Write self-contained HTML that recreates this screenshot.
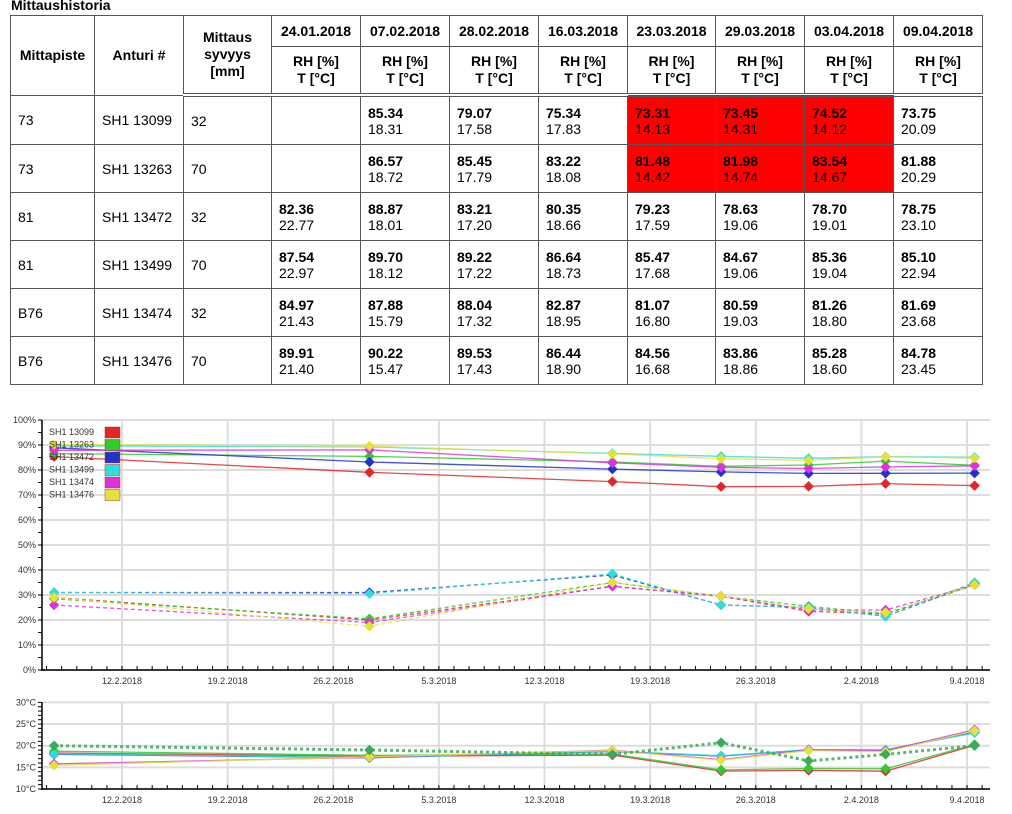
<!DOCTYPE html>
<html><head><meta charset="utf-8">
<style>
body{margin:0;width:1012px;height:814px;background:#fff;font-family:"Liberation Sans",Arial,sans-serif;position:relative;overflow:hidden}
#title{position:absolute;left:11px;top:-3px;font-weight:bold;font-size:14px;color:#000}
table{position:absolute;left:10px;top:15px;border-collapse:collapse;table-layout:fixed;font-size:14px;color:#000}
td,th{border:1px solid #555;padding:0 0 0 7px;text-align:left;vertical-align:middle}
th{font-weight:bold;text-align:center;padding:0}
.hd td,.hd th{}
.sub th{border-bottom:4px double #555;height:46px;line-height:17px}
.d1 th{height:30px}
tr.r td{height:47px}
.v{line-height:16px}
.v b{display:block}
.red{background:#ff0000}
svg{position:absolute;left:0;top:0}
</style></head><body>
<div id="title">Mittaushistoria</div>
<table>
<colgroup><col style="width:84px"><col style="width:89px"><col style="width:88px"><col style="width:89px"><col style="width:89px"><col style="width:89px"><col style="width:89px"><col style="width:88px"><col style="width:89px"><col style="width:89px"><col style="width:89px"></colgroup>
<tr class="d1"><th rowspan="2">Mittapiste</th><th rowspan="2">Anturi #</th><th rowspan="2" style="border-bottom:4px double #555;line-height:17px">Mittaus<br>syvyys<br>[mm]</th>
<th>24.01.2018</th><th>07.02.2018</th><th>28.02.2018</th><th>16.03.2018</th><th>23.03.2018</th><th>29.03.2018</th><th>03.04.2018</th><th>09.04.2018</th></tr>
<tr class="sub">
<th>RH [%]<br>T [°C]</th><th>RH [%]<br>T [°C]</th><th>RH [%]<br>T [°C]</th><th>RH [%]<br>T [°C]</th><th>RH [%]<br>T [°C]</th><th>RH [%]<br>T [°C]</th><th>RH [%]<br>T [°C]</th><th>RH [%]<br>T [°C]</th></tr>
<tbody id="tb"></tbody>
</table>
<svg id="chart" width="1012" height="814"></svg>
<script>
// table data
const rowPoints=["73","73","81","81","B76","B76"];
const rowSensors=["SH1 13099","SH1 13263","SH1 13472","SH1 13499","SH1 13474","SH1 13476"];
const rowDepths=["32","70","32","70","32","70"];
const tableRH=[
 [null,"85.34","79.07","75.34","73.31","73.45","74.52","73.75"],
 [null,"86.57","85.45","83.22","81.48","81.98","83.54","81.88"],
 ["82.36","88.87","83.21","80.35","79.23","78.63","78.70","78.75"],
 ["87.54","89.70","89.22","86.64","85.47","84.67","85.36","85.10"],
 ["84.97","87.88","88.04","82.87","81.07","80.59","81.26","81.69"],
 ["89.91","90.22","89.53","86.44","84.56","83.86","85.28","84.78"]];
const tableT=[
 [null,"18.31","17.58","17.83","14.13","14.31","14.12","20.09"],
 [null,"18.72","17.79","18.08","14.42","14.74","14.67","20.29"],
 ["22.77","18.01","17.20","18.66","17.59","19.06","19.01","23.10"],
 ["22.97","18.12","17.22","18.73","17.68","19.06","19.04","22.94"],
 ["21.43","15.79","17.32","18.95","16.80","19.03","18.80","23.68"],
 ["21.40","15.47","17.43","18.90","16.68","18.86","18.60","23.45"]];
const tb=document.getElementById('tb');
for(let i=0;i<6;i++){
 const tr=document.createElement('tr');tr.className='r';
 
 
 let h='<td>'+rowPoints[i]+'</td><td>'+rowSensors[i]+'</td><td>'+rowDepths[i]+'</td>';
 for(let j=0;j<8;j++){
  const red=(i<2&&j>=4&&j<=6)?' class="red"':'';
  h+='<td'+red+'>'+(tableRH[i][j]?'<div class="v"><b>'+tableRH[i][j]+'</b>'+tableT[i][j]+'</div>':'')+'</td>';
 }
 tr.innerHTML=h;tb.appendChild(tr);
}
</script>
<script>
// chart data (days relative to 12.2.2018)
const seriesNames=["SH1 13099","SH1 13263","SH1 13472","SH1 13499","SH1 13474","SH1 13476"];
const seriesColors=["#e02828","#2ecc2e","#2233cc","#33dddd","#dd33dd","#e6e03c"];
const pointDays=[-4.5,16.4,32.5,39.7,45.5,50.6,56.5];
const rhSolid=[
 [85.34,79.07,75.34,73.31,73.45,74.52,73.75],
 [86.57,85.45,83.22,81.48,81.98,83.54,81.88],
 [88.87,83.21,80.35,79.23,78.63,78.70,78.75],
 [89.70,89.22,86.64,85.47,84.67,85.36,85.10],
 [87.88,88.04,82.87,81.07,80.59,81.26,81.69],
 [90.22,89.53,86.44,84.56,83.86,85.28,84.78]];
const rhDashed=[
 [29,20,33.5,29.5,23.5,22.5,34],
 [28.5,20.5,35,29.5,25.5,22.5,34],
 [31,31,38,26,25,21.5,34.5],
 [31,30.5,38.5,26,25,21.5,35],
 [26,19,33.5,29.5,24,24,34],
 [29,17.5,35,29.5,24.5,23,34]];
const tempSolid=[
 [18.31,17.58,17.83,14.13,14.31,14.12,20.09],
 [18.72,17.79,18.08,14.42,14.74,14.67,20.29],
 [18.01,17.20,18.66,17.59,19.06,19.01,23.10],
 [18.12,17.22,18.73,17.68,19.06,19.04,22.94],
 [15.79,17.32,18.95,16.80,19.03,18.80,23.68],
 [15.47,17.43,18.90,16.68,18.86,18.60,23.45]];
const tempDotted=[20,19,18,20.7,16.5,18,20];
const rhTicks=[0,10,20,30,40,50,60,70,80,90,100];
const tTicks=[10,15,20,25,30];
const weekLabels=["12.2.2018","19.2.2018","26.2.2018","5.3.2018","12.3.2018","19.3.2018","26.3.2018","2.4.2018","9.4.2018"];

const svg=document.getElementById('chart');
const NS='http://www.w3.org/2000/svg';
function mk(t,a,p){const e=document.createElementNS(NS,t);for(const k in a)e.setAttribute(k,a[k]);(p||svg).appendChild(e);return e;}
const X=d=>122+d*15.09;
const YR=v=>670-v*2.5;
const YT=v=>789-(v-10)*4.33;
function diamond(x,y,c,g){return mk('path',{d:`M${x} ${y-5}L${x+5} ${y}L${x} ${y+5}L${x-5} ${y}Z`,fill:c,stroke:c,'stroke-width':0.5},g);}

function drawAxes(top,bottom,ticks,Y,fmt,minor){
 const g=mk('g',{});
 
 
 ticks.forEach(v=>{
  const l=mk('line',{x1:42,x2:990,y1:Y(v),y2:Y(v),stroke:'#ddd','stroke-width':2},g);
  
  
  const t=mk('text',{x:36,y:Y(v)+3,'font-size':9,'text-anchor':'end',fill:'#333'},g);
  t.textContent=fmt(v);
  
  
 });
 for(let v=ticks[0];v<=ticks[ticks.length-1];v+=minor){
  mk('line',{x1:38,x2:42,y1:Y(v),y2:Y(v),stroke:'#000','stroke-width':1},g);
 }
 weekLabels.forEach((w,i)=>{
  const x=X(i*7);
  const l=mk('line',{x1:x,x2:x,y1:top,y2:bottom,stroke:'#ddd','stroke-width':2},g);
  
  
  const t=mk('text',{x:x,y:bottom+14,'font-size':9,'text-anchor':'middle',fill:'#333'},g);
  t.textContent=w;
  
  
 });
 for(let d=-5;d<=57;d++){mk('line',{x1:X(d),x2:X(d),y1:bottom-4,y2:bottom,stroke:'#000','stroke-width':1},g);}
 mk('line',{x1:42,x2:42,y1:top,y2:bottom+1,stroke:'#000','stroke-width':1.5},g);
 mk('line',{x1:42,x2:990,y1:bottom,y2:bottom,stroke:'#000','stroke-width':1.5},g);
}
drawAxes(420,670,rhTicks,YR,v=>v+'%',5);
drawAxes(702,789,tTicks,YT,v=>v+'°C',1);

function series(vals,Y,c,dash,w,name){
 const g=mk('g',{});
 
 
 const pts=vals.map((v,i)=>X(pointDays[i]).toFixed(1)+','+Y(v).toFixed(1)).join(' ');
 mk('polyline',{points:pts,fill:'none',stroke:c,'stroke-width':w,'stroke-dasharray':dash||'none',opacity:0.85},g);
 vals.forEach((v,i)=>{const m=diamond(X(pointDays[i]),Y(v),c,g);
  
  });
}
for(let s=0;s<6;s++){
 series(rhDashed[s],YR,seriesColors[s],'4,3',1.3,'rh-dashed-series');
 series(rhSolid[s],YR,seriesColors[s],null,1.3,'rh-series');
 series(tempSolid[s],YT,seriesColors[s],null,1.3,'temp-series');
}
series(tempDotted,YT,'#3caa5a','3,3',3,'temp-dotted-series');

// legend
const lg=mk('g',{});


seriesNames.forEach((n,i)=>{
 const y=432+i*12.5;
 const e=mk('g',{},lg);
 
 
 const t=mk('text',{x:49,y:y+3,'font-size':9,fill:'#333'},e);
 t.textContent=n;
 mk('rect',{x:105,y:y-5,width:15,height:11,fill:seriesColors[i],stroke:'#a33','stroke-width':0.5},e);
});
</script>
</body></html>
